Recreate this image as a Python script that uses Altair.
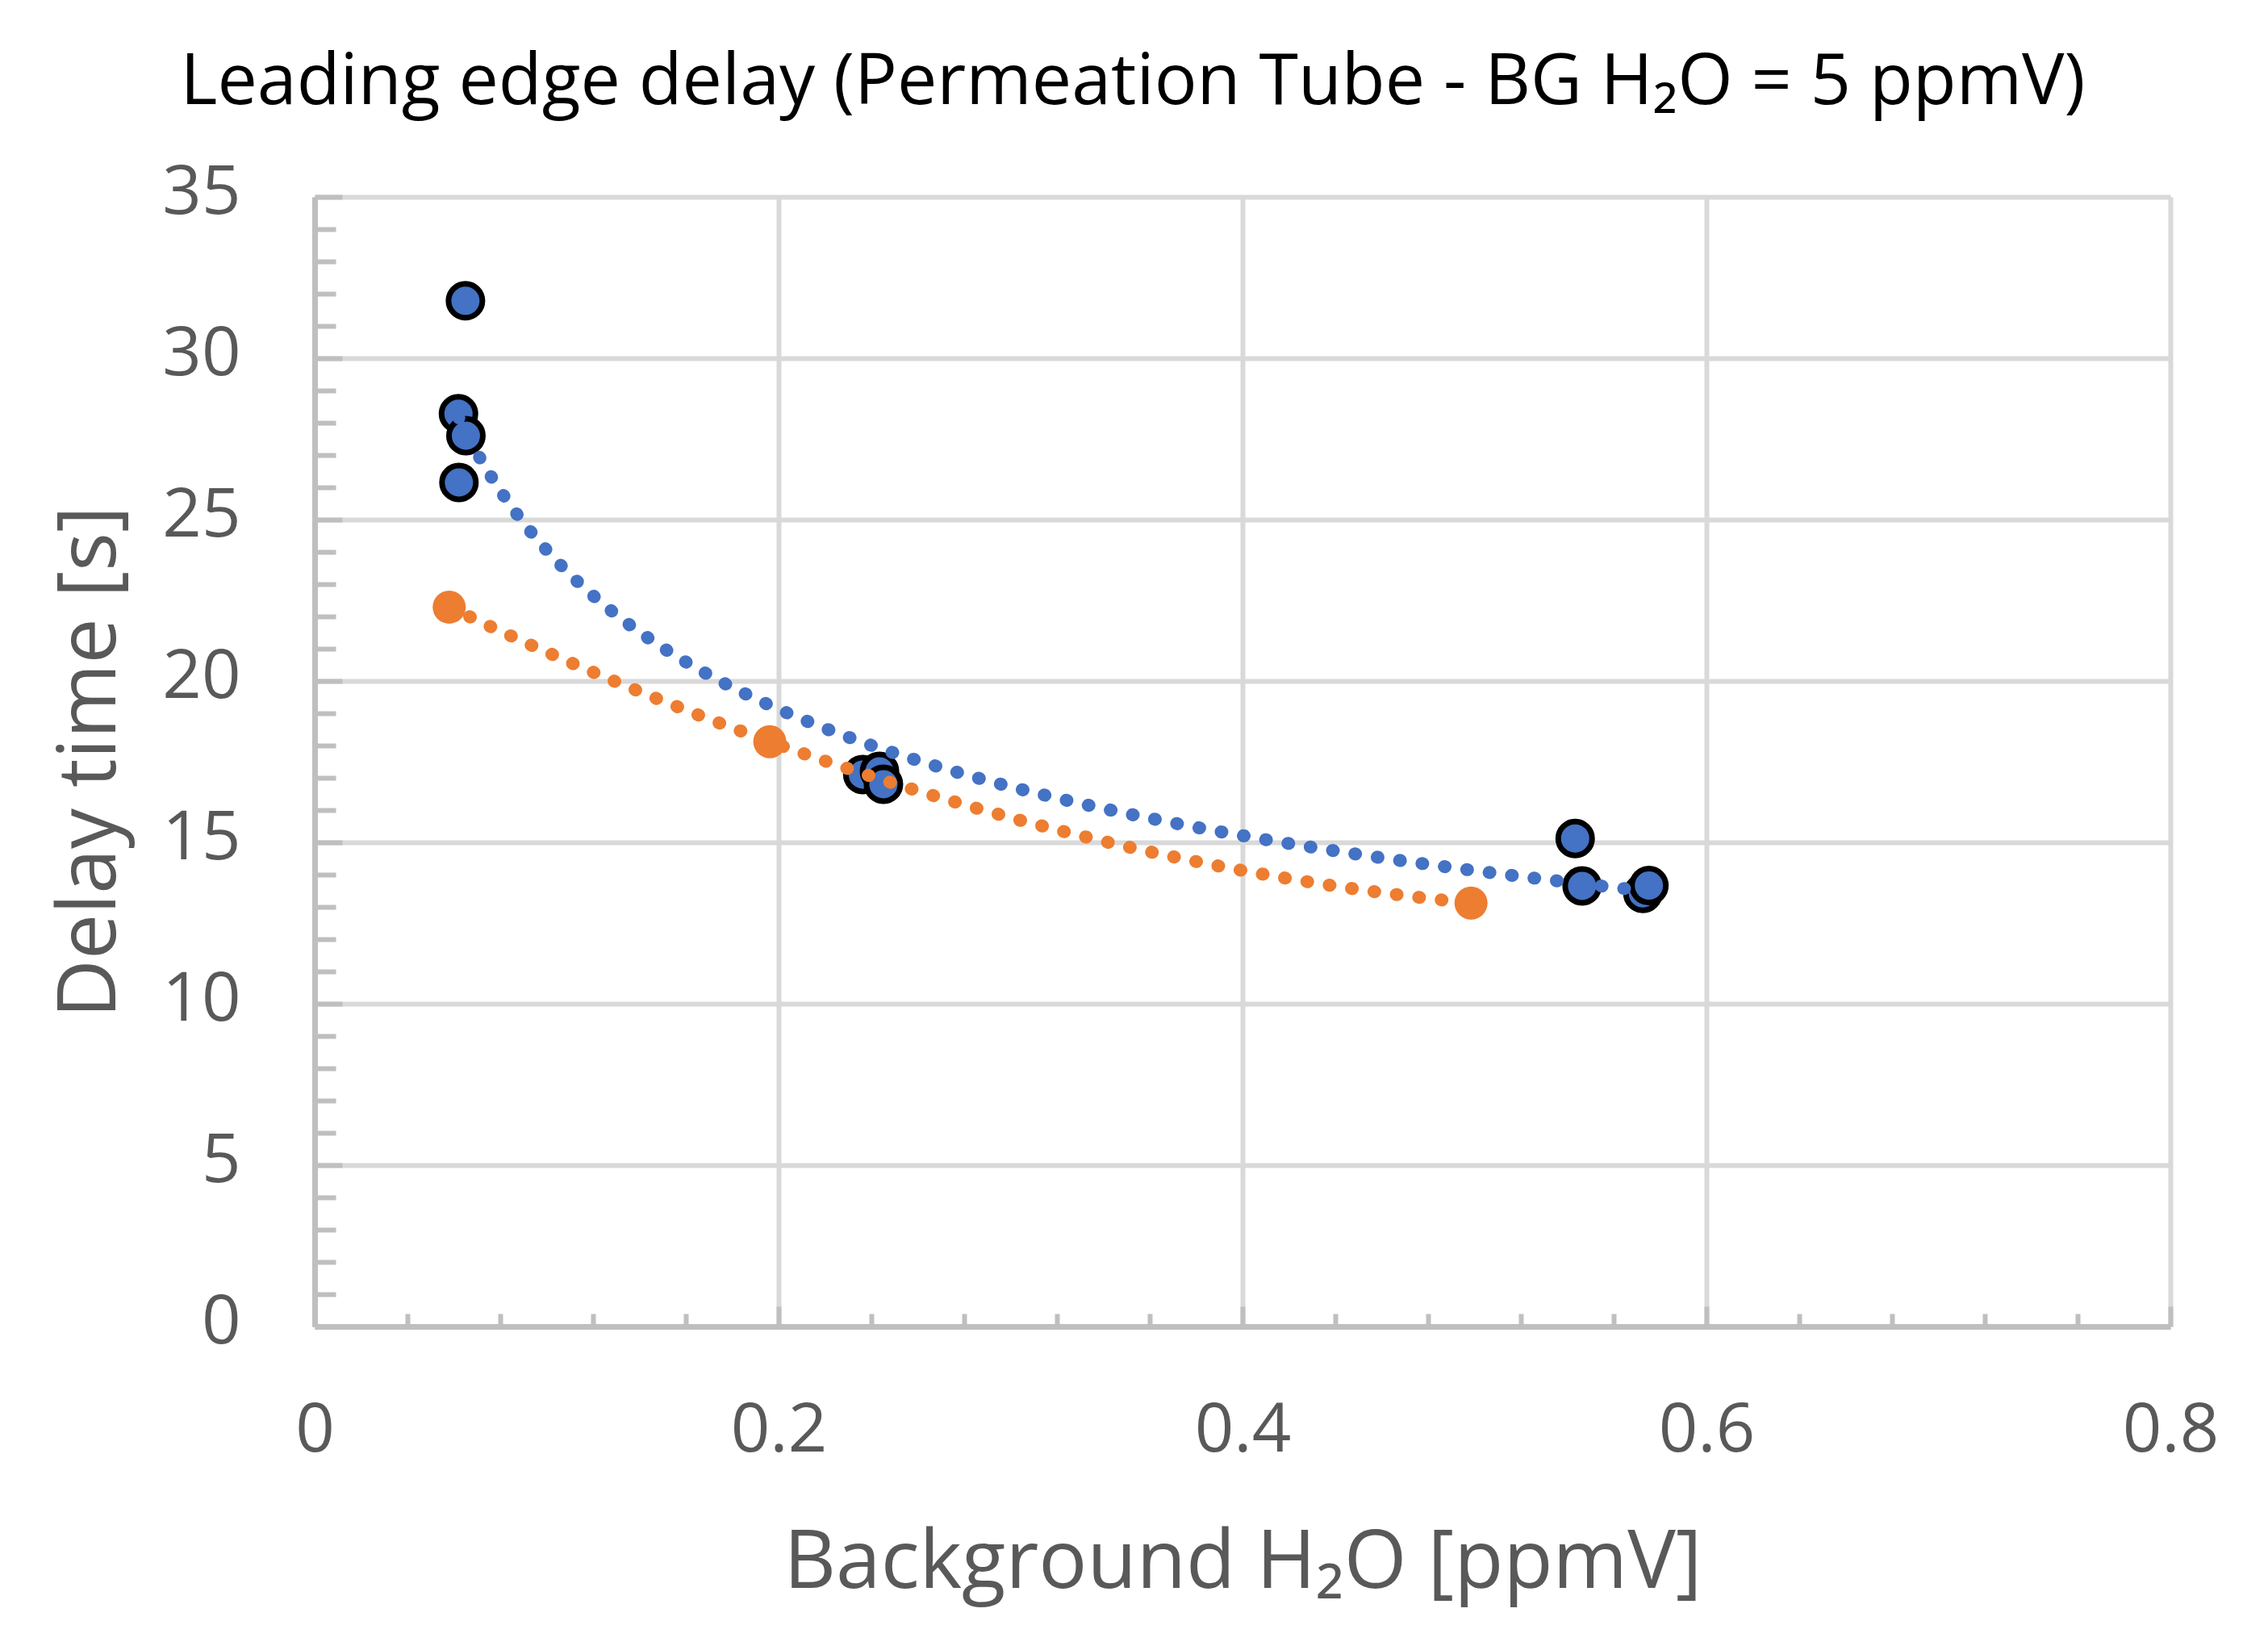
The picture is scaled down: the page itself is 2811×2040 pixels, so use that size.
import altair as alt
import pandas as pd

# ---- data ----
blue_x = [0.0650, 0.0620, 0.0652, 0.0622, 0.2363, 0.2435, 0.2452, 0.5434, 0.5464, 0.5726, 0.5752]
blue_y = [31.78, 28.28, 27.60, 26.15, 17.10, 17.20, 16.80, 15.12, 13.65, 13.42, 13.66]
orange_x = [0.0580, 0.1962, 0.4985]
orange_y = [22.29, 18.12, 13.12]

x_major = [0, 0.2, 0.4, 0.6, 0.8]
x_minor = [0.04, 0.08, 0.12, 0.16, 0.24, 0.28, 0.32, 0.36, 0.44, 0.48, 0.52, 0.56,
           0.64, 0.68, 0.72, 0.76]
y_major = [0, 5, 10, 15, 20, 25, 30, 35]
y_minor = [1, 2, 3, 4, 6, 7, 8, 9, 11, 12, 13, 14, 16, 17, 18, 19, 21, 22, 23, 24,
           26, 27, 28, 29, 31, 32, 33, 34]

title_text = "Leading edge delay (Permeation Tube - BG H₂O = 5 ppmV)"
x_title = "Background H₂O [ppmV]"
y_title = "Delay time [s]"

blue_df = pd.DataFrame({"x": blue_x, "y": blue_y})
orange_df = pd.DataFrame({"x": orange_x, "y": orange_y})

FONT = "Open Sans"
GRID = "#d9d9d9"
AXIS = "#bfbfbf"
TEXT = "#595959"
BLUE = "#4472c4"
ORANGE = "#ed7d31"

xscale = alt.Scale(domain=[0, 0.8], nice=False, zero=False)
yscale = alt.Scale(domain=[0, 35], nice=False, zero=False)

# main axes: grid, domain, labels, titles
x_main = alt.Axis(orient="bottom", values=x_major, format="~g", grid=True, gridColor=GRID,
                  gridWidth=6, domain=True, domainColor=AXIS, domainWidth=7, ticks=False,
                  labelFont=FONT, labelFontSize=85, labelColor=TEXT, labelPadding=87,
                  labelFlush=False, labelOverlap=False,
                  title=x_title, titleFont=FONT, titleFontSize=100, titleColor=TEXT,
                  titleFontWeight="normal", titleX=1150, titleY=293, titleAlign="center",
                  titleBaseline="middle", titleAngle=0)
y_main = alt.Axis(orient="left", values=y_major, format="~g", grid=True, gridColor=GRID,
                  gridWidth=6, domain=True, domainColor=AXIS, domainWidth=7, ticks=False,
                  labelFont=FONT, labelFontSize=85, labelColor=TEXT, labelPadding=92,
                  labelOffset=-6, labelOverlap=False,
                  title=y_title, titleFont=FONT, titleFontSize=100, titleColor=TEXT,
                  titleFontWeight="normal", titleX=-278, titleY=700, titleAlign="center",
                  titleBaseline="middle", titleAngle=270)

# inside major ticks
x_major_ticks = alt.Axis(orient="bottom", values=x_major, offset=-25, tickSize=25, tickWidth=6,
                         tickColor=AXIS, domain=False, labels=False, grid=False, title=None)
y_major_ticks = alt.Axis(orient="left", values=y_major, offset=-34, tickSize=34, tickWidth=6,
                         tickColor=AXIS, domain=False, labels=False, grid=False, title=None)
# inside minor ticks
x_minor_ticks = alt.Axis(orient="bottom", values=x_minor, offset=-16, tickSize=16, tickWidth=6,
                         tickColor=AXIS, domain=False, labels=False, grid=False, title=None)
y_minor_ticks = alt.Axis(orient="left", values=y_minor, offset=-26, tickSize=26, tickWidth=6,
                         tickColor=AXIS, domain=False, labels=False, grid=False, title=None)

blue_pts = alt.Chart(blue_df).mark_circle(
    fill=BLUE, stroke="#000000", strokeWidth=7, size=1764, opacity=1
).encode(
    x=alt.X("x:Q", scale=xscale, axis=x_main),
    y=alt.Y("y:Q", scale=yscale, axis=y_main),
)

orange_pts = alt.Chart(orange_df).mark_circle(
    fill=ORANGE, size=1681, opacity=1, strokeWidth=0
).encode(
    x=alt.X("x:Q", scale=xscale, axis=x_major_ticks),
    y=alt.Y("y:Q", scale=yscale, axis=y_major_ticks),
)

blue_trend = alt.Chart(blue_df).transform_regression(
    "x", "y", method="pow"
).mark_line(
    color=BLUE, strokeWidth=16, strokeDash=[1, 27], strokeCap="round"
).encode(
    x=alt.X("x:Q", scale=xscale, axis=x_minor_ticks),
    y=alt.Y("y:Q", scale=yscale, axis=y_minor_ticks),
)

orange_trend = alt.Chart(orange_df).transform_regression(
    "x", "y", method="poly", order=2
).mark_line(
    color=ORANGE, strokeWidth=16, strokeDash=[1, 27], strokeCap="round"
).encode(
    x=alt.X("x:Q", scale=xscale, axis=None),
    y=alt.Y("y:Q", scale=yscale, axis=None),
)

chart = alt.layer(blue_pts, orange_pts, blue_trend, orange_trend).resolve_axis(
    x="independent", y="independent"
).properties(
    width=2300,
    height=1400,
    title=alt.TitleParams(text=title_text, font=FONT, fontSize=88, fontWeight="normal",
                          color="#000000", anchor="middle", dx=-136, offset=49),
    autosize=alt.AutoSizeParams(type="none"),
    padding={"left": 382, "top": 236, "right": 110, "bottom": 380},
).configure_view(strokeOpacity=0)

chart.save("out.html", embed_options={"renderer": "svg", "actions": False})
